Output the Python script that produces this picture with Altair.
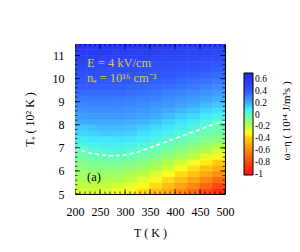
import altair as alt
import pandas as pd

# cell centres: T (K) and Te (10^2 K)
T_centers = [212.5, 237.5, 262.5, 287.5, 312.5, 337.5, 362.5, 387.5, 412.5, 437.5, 462.5, 487.5]
Te_centers = [5.125, 5.375, 5.625, 5.875, 6.125, 6.375, 6.625, 6.875, 7.125, 7.375, 7.625,
              7.875, 8.125, 8.375, 8.625, 8.875, 9.125, 9.375, 9.625, 9.875, 10.125,
              10.375, 10.625, 10.875, 11.125, 11.375]
# omega - eta (10^14 J/m^3 s), one list per T column, Te from bottom to top
values = [
    [-0.24, -0.21, -0.17, -0.14, -0.11, -0.08, -0.04, 0.00, 0.04, 0.08, 0.12, 0.15, 0.19, 0.22, 0.25, 0.28, 0.32, 0.35, 0.38, 0.41, 0.44, 0.47, 0.50, 0.53, 0.56, 0.59],
    [-0.24, -0.21, -0.17, -0.14, -0.10, -0.06, -0.02, 0.02, 0.06, 0.10, 0.13, 0.16, 0.20, 0.23, 0.26, 0.29, 0.32, 0.35, 0.38, 0.41, 0.44, 0.47, 0.50, 0.53, 0.56, 0.58],
    [-0.26, -0.22, -0.18, -0.14, -0.10, -0.05, -0.01, 0.03, 0.07, 0.10, 0.14, 0.17, 0.20, 0.23, 0.26, 0.29, 0.32, 0.35, 0.38, 0.41, 0.44, 0.47, 0.50, 0.52, 0.55, 0.58],
    [-0.29, -0.24, -0.19, -0.14, -0.10, -0.05, -0.01, 0.04, 0.07, 0.11, 0.14, 0.17, 0.20, 0.23, 0.26, 0.29, 0.32, 0.35, 0.38, 0.41, 0.44, 0.46, 0.49, 0.52, 0.55, 0.58],
    [-0.32, -0.27, -0.22, -0.17, -0.12, -0.07, -0.02, 0.02, 0.06, 0.10, 0.13, 0.16, 0.19, 0.22, 0.25, 0.28, 0.31, 0.34, 0.37, 0.40, 0.43, 0.46, 0.49, 0.51, 0.54, 0.57],
    [-0.37, -0.31, -0.26, -0.20, -0.15, -0.10, -0.05, 0.00, 0.04, 0.08, 0.11, 0.14, 0.18, 0.21, 0.24, 0.27, 0.30, 0.33, 0.36, 0.39, 0.42, 0.45, 0.48, 0.51, 0.54, 0.57],
    [-0.44, -0.37, -0.31, -0.25, -0.19, -0.13, -0.08, -0.03, 0.01, 0.05, 0.09, 0.12, 0.16, 0.19, 0.22, 0.25, 0.29, 0.32, 0.35, 0.38, 0.41, 0.44, 0.47, 0.50, 0.53, 0.56],
    [-0.51, -0.44, -0.37, -0.30, -0.24, -0.18, -0.12, -0.07, -0.02, 0.02, 0.06, 0.10, 0.13, 0.17, 0.20, 0.24, 0.27, 0.30, 0.34, 0.37, 0.40, 0.43, 0.46, 0.49, 0.52, 0.56],
    [-0.60, -0.52, -0.44, -0.37, -0.29, -0.23, -0.16, -0.11, -0.05, -0.01, 0.03, 0.07, 0.11, 0.14, 0.18, 0.22, 0.25, 0.29, 0.32, 0.35, 0.39, 0.42, 0.45, 0.49, 0.52, 0.55],
    [-0.69, -0.60, -0.52, -0.43, -0.36, -0.28, -0.21, -0.15, -0.09, -0.04, -0.01, 0.04, 0.08, 0.12, 0.16, 0.20, 0.23, 0.27, 0.31, 0.34, 0.38, 0.41, 0.44, 0.48, 0.51, 0.55],
    [-0.81, -0.71, -0.61, -0.51, -0.43, -0.34, -0.27, -0.19, -0.13, -0.08, -0.03, 0.00, 0.05, 0.09, 0.13, 0.17, 0.21, 0.25, 0.29, 0.33, 0.36, 0.40, 0.43, 0.47, 0.51, 0.54],
    [-0.91, -0.80, -0.69, -0.59, -0.49, -0.40, -0.31, -0.24, -0.17, -0.10, -0.05, -0.02, 0.01, 0.06, 0.11, 0.15, 0.19, 0.23, 0.27, 0.31, 0.35, 0.38, 0.42, 0.46, 0.49, 0.53],
]
cell_dT = 25.0
cell_dTe = 0.25

# zero contour (dashed white)
zero_T = [200, 225, 250, 275, 300, 325, 350, 375, 400, 425, 450, 475, 500]
zero_Te = [7.0, 6.8, 6.7, 6.65, 6.7, 6.82, 7.0, 7.2, 7.4, 7.6, 7.8, 8.0, 8.15]

x_ticks = [200, 250, 300, 350, 400, 450, 500]
x_minor = list(range(200, 501, 10))
y_ticks = [5, 6, 7, 8, 9, 10, 11]
y_minor = [round(5 + 0.2 * i, 2) for i in range(33)]
cb_ticks = [-1, -0.8, -0.6, -0.4, -0.2, 0, 0.2, 0.4, 0.6]

pal_dom = [-1.02, -0.8, -0.6, -0.4, -0.3, -0.2, 0.0, 0.1, 0.2, 0.4, 0.7]
pal_rng = ["#ff1010", "#ff4810", "#ff8a10", "#ffcc10", "#ffff20", "#b8ff40",
           "#60ffc0", "#40e8ff", "#40a8ff", "#3058ff", "#2424e8"]

rows = []
for i, t in enumerate(T_centers):
    for j, te in enumerate(Te_centers):
        rows.append({"T0": t - cell_dT / 2, "T1": t + cell_dT / 2,
                     "Te0": te - cell_dTe / 2, "Te1": te + cell_dTe / 2,
                     "v": values[i][j]})
grid = pd.DataFrame(rows)

xs = alt.Scale(domain=[200, 500], nice=False, zero=False)
ys = alt.Scale(domain=[5, 11.5], nice=False, zero=False)
cs = alt.Scale(domain=pal_dom, range=pal_rng, interpolate="rgb")
FONT = "Liberation Serif"

AX = alt.Axis(values=x_ticks, ticks=False, domain=False, grid=False,
              labelPadding=12, titlePadding=10, labelOverlap=False, labelFlush=False)
AY = alt.Axis(values=y_ticks, ticks=False, domain=False, grid=False,
              labelPadding=11, titlePadding=16, labelOverlap=False, labelFlush=False)
XT = "T ( K )"
YT = "Tₑ ( 10² K )"

def X(f):
    return alt.X(f, scale=xs, axis=AX, title=XT)

def Y(f):
    return alt.Y(f, scale=ys, axis=AY, title=YT)

heat = alt.Chart(grid).mark_rect(strokeWidth=0.6, clip=True).encode(
    x=X("T0:Q"), x2="T1:Q", y=Y("Te0:Q"), y2="Te1:Q",
    color=alt.Color("v:Q", scale=cs,
                    legend=alt.Legend(title=None, values=cb_ticks,
                                      labelExpr="'' + datum.value")),
    stroke=alt.Stroke("v:Q", scale=cs, legend=None),
)

zero = alt.Chart(pd.DataFrame({"T": zero_T, "Te": zero_Te})).mark_line(
    color="white", strokeDash=[4, 3], strokeWidth=1.6, clip=True, interpolate="monotone"
).encode(x=X("T:Q"), y=Y("Te:Q"))

def xt(vals, size):
    df = pd.DataFrame([{"T": v, "Te": e} for v in vals for e in (5, 11.5)])
    return alt.Chart(df).mark_tick(orient="vertical", size=size, thickness=1,
                                   color="black", clip=True).encode(
        x=X("T:Q"), y=Y("Te:Q"))

def yt(vals, size):
    df = pd.DataFrame([{"T": t, "Te": v} for v in vals for t in (200, 500)])
    return alt.Chart(df).mark_tick(orient="horizontal", size=size, thickness=1,
                                   color="black", clip=True).encode(
        x=X("T:Q"), y=Y("Te:Q"))

ann = pd.DataFrame({
    "T": [224, 224, 224],
    "Te": [10.67, 10.02, 5.74],
    "label": ["E = 4 kV/cm", "nₑ = 10¹⁶ cm⁻³", "(a)"],
    "col": ["#d4cc3c", "#d4cc3c", "black"],
})
texts = alt.Chart(ann).mark_text(align="left", baseline="middle", font=FONT,
                                 fontSize=12.5).encode(
    x=X("T:Q"), y=Y("Te:Q"),
    text="label:N", color=alt.Color("col:N", scale=None))

cb_title = alt.Chart(pd.DataFrame({"t": ["ω−η ( 10¹⁴ J/m³s )"]})).mark_text(
    angle=270, font=FONT, fontSize=11, color="black", align="center", baseline="middle"
).encode(x=alt.value(212), y=alt.value(77), text="t:N")

chart = alt.layer(heat, zero, xt(x_minor, 5), xt(x_ticks, 10), yt(y_minor, 5),
                  yt(y_ticks, 10), texts, cb_title).resolve_scale(color="independent").properties(
    width=150, height=150,
    autosize=alt.AutoSizeParams(type="none"),
    padding={"left": 67, "top": 36, "right": 67, "bottom": 50},
).configure_view(stroke="black", strokeWidth=1).configure_axis(
    labelFont=FONT, labelFontSize=12, labelColor="black", labelOverlap=False,
    titleFont=FONT, titleFontSize=12, titleFontWeight="normal", titleColor="black",
).configure_legend(
    orient="none", legendX=169, legendY=29, direction="vertical",
    gradientLength=102, gradientThickness=9,
    gradientStrokeColor="black", gradientStrokeWidth=1,
    labelFont=FONT, labelFontSize=9.5, labelColor="black", labelOffset=5,
    labelOverlap=False, labelBaseline="middle",
)

chart.save("out.html", embed_options={"renderer": "svg", "actions": False})
